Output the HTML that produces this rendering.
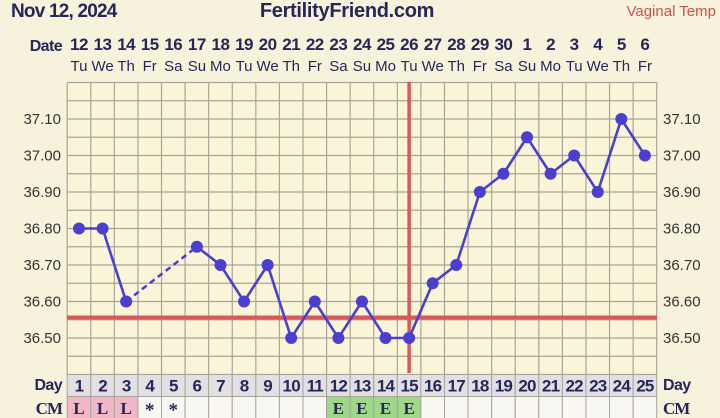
<!DOCTYPE html>
<html><head><meta charset="utf-8"><style>
html,body{margin:0;padding:0;background:#f7f2dc;}
svg{display:block;font-family:"Liberation Sans",sans-serif;}
</style></head><body>
<svg width="720" height="418" viewBox="0 0 720 418" xmlns="http://www.w3.org/2000/svg">
<rect width="720" height="418" fill="#f7f2dc"/>
<text x="11" y="17" font-size="19" font-weight="bold" fill="#262659" letter-spacing="-0.8">Nov 12, 2024</text>
<text x="347" y="17" font-size="20" font-weight="bold" fill="#262659" text-anchor="middle" letter-spacing="-0.3">FertilityFriend.com</text>
<text x="716" y="16" font-size="15" fill="#d05050" text-anchor="end">Vaginal Temp</text>
<text x="62" y="51" font-size="16" font-weight="bold" fill="#262659" text-anchor="end" letter-spacing="-0.6">Date</text>
<g id="dates" font-size="17" font-weight="bold" fill="#262659" text-anchor="middle" letter-spacing="-0.5"></g>
<g id="dows" font-size="15" fill="#262659" text-anchor="middle"></g>
<rect x="67.2" y="82.5" width="589.5" height="292" fill="#faf5d8"/>
<g id="grid" stroke="#a8a498" stroke-width="1.2"></g>
<g id="ylab" font-size="15" fill="#333" ></g>
<line x1="67" y1="317.5" x2="657" y2="317.5" stroke="#d9585a" stroke-width="4"/>
<line x1="409.1" y1="82" x2="409.1" y2="373" stroke="#d9585a" stroke-width="3.5"/>
<g id="rows"></g>
<g id="series"></g>
</svg>
<script>
var ns="http://www.w3.org/2000/svg";
function el(p,t,a,txt){var e=document.createElementNS(ns,t);for(var k in a)e.setAttribute(k,a[k]);if(txt!=null)e.textContent=txt;document.getElementById(p).appendChild(e);return e;}
var L=67.2,W=23.58;function cx(i){return L+W*(i+0.5);}
function ty(t){return 119+(37.10-t)*365;}
var dates=[12,13,14,15,16,17,18,19,20,21,22,23,24,25,26,27,28,29,30,1,2,3,4,5,6];
var dows=["Tu","We","Th","Fr","Sa","Su","Mo","Tu","We","Th","Fr","Sa","Su","Mo","Tu","We","Th","Fr","Sa","Su","Mo","Tu","We","Th","Fr"];
for(var i=0;i<25;i++){el("dates","text",{x:cx(i),y:50},dates[i]);el("dows","text",{x:cx(i),y:71},dows[i]);}
for(var i=0;i<=25;i++){el("grid","line",{x1:L+W*i,y1:82.5,x2:L+W*i,y2:374.5});}
for(var j=0;j<=16;j++){var y=82.5+j*18.25;el("grid","line",{x1:L,y1:y,x2:L+W*25,y2:y});}
var labs=[37.10,37.00,36.90,36.80,36.70,36.60,36.50];
labs.forEach(function(t){var y=ty(t)+5;el("ylab","text",{x:61,y:y,"text-anchor":"end"},t.toFixed(2));el("ylab","text",{x:663,y:y},t.toFixed(2));});
el("rows","text",{x:62,y:390,"font-size":16,"font-weight":"bold",fill:"#262659","text-anchor":"end","letter-spacing":"-0.6"},"Day");
el("rows","text",{x:663,y:390,"font-size":16,"font-weight":"bold",fill:"#262659","letter-spacing":"-0.6"},"Day");
el("rows","text",{x:62,y:414,"font-size":17,"font-weight":"bold",fill:"#262659","text-anchor":"end","font-family":"Liberation Serif","letter-spacing":"-1"},"CM");
el("rows","text",{x:663,y:414,"font-size":17,"font-weight":"bold",fill:"#262659","font-family":"Liberation Serif","letter-spacing":"-1"},"CM");
var cm=["L","L","L","*","*","","","","","","","E","E","E","E","","","","","","","","","",""];
for(var i=0;i<25;i++){
 el("rows","rect",{x:L+W*i,y:374.5,width:W,height:22,fill:"#e2e0e4",stroke:"#a8a498","stroke-width":1});
 el("rows","text",{x:cx(i),y:391.5,"font-size":17,"font-weight":"bold",fill:"#262659","text-anchor":"middle","letter-spacing":"-0.8"},i+1);
 var f=cm[i]=="L"?"#f2b8c8":(cm[i]=="E"?"#9ed88a":"#f8f7f2");
 el("rows","rect",{x:L+W*i,y:396.5,width:W,height:22,fill:f,stroke:"#a8a498","stroke-width":1});
 if(cm[i])el("rows","text",{x:cx(i),y:cm[i]=="*"?416:414,"font-size":cm[i]=="*"?19:17,"font-weight":"bold",fill:"#262659","text-anchor":"middle","font-family":"Liberation Serif"},cm[i]);
}
var t=[36.80,36.80,36.60,null,null,36.75,36.70,36.60,36.70,36.50,36.60,36.50,36.60,36.50,36.50,36.65,36.70,36.90,36.95,37.05,36.95,37.00,36.90,37.10,37.00];
var pts=[];for(var i=0;i<25;i++)if(t[i]!=null)pts.push([cx(i),ty(t[i]),i]);
var d="";for(var k=0;k<pts.length;k++){var p=pts[k];if(k>0&&p[2]-pts[k-1][2]>1){el("series","line",{x1:pts[k-1][0],y1:pts[k-1][1],x2:p[0],y2:p[1],stroke:"#4a3fcf","stroke-width":2.5,"stroke-dasharray":"6,4"});d+="M";}else d+=(k?"L":"M");d+=p[0]+","+p[1];}
el("series","path",{d:d,fill:"none",stroke:"#4a3fcf","stroke-width":2.6});
pts.forEach(function(p){el("series","circle",{cx:p[0],cy:p[1],r:6,fill:"#4a3fcf"});});
</script>
</body></html>
